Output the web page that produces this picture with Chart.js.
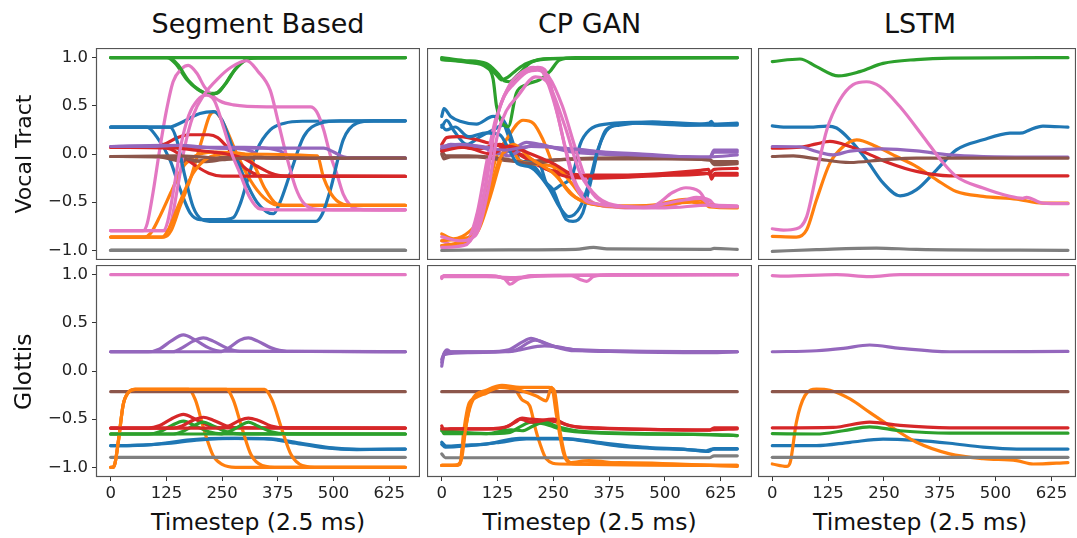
<!DOCTYPE html>
<html>
<head>
<meta charset="utf-8">
<script src="https://cdn.jsdelivr.net/npm/chart.js@4/dist/chart.umd.min.js"></script>
<style>
  body { margin: 0; width: 1077px; height: 538px; overflow: hidden; background: #fff; position: relative; font-family: "DejaVu Sans", sans-serif; }
  canvas { position: absolute; }
  .lbl { position: absolute; color: #111; white-space: nowrap; line-height: 1; }
</style>
</head>
<body>
<canvas id="c00"></canvas><canvas id="c01"></canvas><canvas id="c02"></canvas>
<canvas id="c10"></canvas><canvas id="c11"></canvas><canvas id="c12"></canvas>
<script>
// tick labels
const xTicks = [0, 125, 250, 375, 500, 625];
const yTicks = [-1, -0.5, 0, 0.5, 1];
const yTickLabels = ['\u22121.0', '\u22120.5', '0.0', '0.5', '1.0'];
const titles = ['Segment Based', 'CP GAN', 'LSTM'];
const rowLabels = ['Vocal Tract', 'Glottis'];
const xLabel = 'Timestep (2.5 ms)';

// ---- Segment Based, vocal tract ----
const segVtBlue = [
  [[0,0.278],[81,0.278],[103,0.18],[133,-0.06],[156,-0.37],[178,-0.61],[201,-0.68],[250,-0.68],[275,-0.66],[292,-0.5],[305,-0.3],[328,0.04],[358,0.25],[390,0.32],[430,0.34],[661,0.344]],
  [[0,0.278],[130,0.278],[160,0.33],[200,0.42],[231,0.44],[250,0.35],[275,0.04],[300,-0.25],[328,-0.5],[350,-0.6],[365,-0.62],[380,-0.5],[403,-0.2],[433,0.18],[470,0.32],[515,0.344],[661,0.344]],
  [[0,0.278],[133,0.278],[148,0.15],[165,-0.2],[185,-0.55],[205,-0.68],[230,-0.7],[460,-0.7],[475,-0.62],[493,-0.37],[522,0.15],[552,0.32],[590,0.344],[661,0.344]]
];
const segVtOrange = [
  [[0,-0.862],[120,-0.862],[135,-0.8],[155,-0.55],[178,-0.27],[208,0.2],[222,0.4],[233,0.44],[253,0.32],[283,0.0],[313,-0.27],[343,-0.45],[373,-0.53],[400,-0.534],[661,-0.534]],
  [[0,-0.862],[75,-0.862],[90,-0.82],[110,-0.65],[135,-0.4],[160,-0.15],[190,-0.02],[230,0.02],[300,0.0],[320,-0.1],[345,-0.35],[373,-0.52],[400,-0.534],[661,-0.534]],
  [[0,-0.862],[115,-0.862],[130,-0.78],[155,-0.5],[185,-0.2],[215,-0.05],[260,0.0],[463,-0.02],[478,-0.25],[500,-0.45],[530,-0.53],[560,-0.534],[661,-0.534]]
];
const segVtGreen = [
  [[0,1],[126,1],[145,0.94],[171,0.77],[195,0.67],[215,0.63],[238,0.63],[253,0.7],[270,0.82],[283,0.9],[300,0.97],[320,0.995],[661,1]],
  [[0,1],[130,1],[150,0.93],[175,0.76],[200,0.66],[222,0.62],[240,0.64],[258,0.73],[280,0.88],[305,0.98],[330,1],[661,1]],
  [[0,1],[661,1]]
];
const segVtRed = [
  [[0,0.07],[90,0.07],[120,0.1],[150,0.17],[175,0.2],[220,0.2],[240,0.17],[265,0.05],[290,-0.1],[320,-0.2],[350,-0.23],[661,-0.233]],
  [[0,0.07],[110,0.07],[135,0.05],[160,-0.02],[190,-0.12],[220,-0.2],[250,-0.23],[661,-0.233]],
  [[0,0.07],[150,0.06],[190,0.04],[230,0.02],[260,0.0],[300,-0.05],[330,-0.13],[360,-0.2],[390,-0.23],[661,-0.233]]
];
const segVtPurple = [
  [[0,0.078],[150,0.08],[250,0.06],[300,0.05],[320,0.02],[340,-0.03],[360,-0.043],[661,-0.043]],
  [[0,0.078],[120,0.09],[200,0.07],[300,0.07],[350,0.06],[380,0.03],[400,-0.02],[420,-0.043],[661,-0.043]],
  [[0,0.078],[100,0.08],[150,0.09],[250,0.06],[350,0.06],[478,0.06],[500,0.02],[522,-0.03],[545,-0.043],[661,-0.043]]
];
const segVtBrown = [
  [[0,-0.026],[110,-0.03],[140,-0.06],[170,-0.08],[200,-0.07],[240,-0.04],[300,-0.03],[400,-0.04],[661,-0.043]],
  [[0,-0.026],[130,-0.03],[170,-0.05],[210,-0.08],[250,-0.06],[300,-0.04],[661,-0.043]],
  [[0,-0.026],[150,-0.02],[200,-0.03],[260,-0.05],[320,-0.04],[661,-0.043]]
];
const segVtPink = [
  [[0,-0.796],[73,-0.796],[82,-0.72],[95,-0.4],[110,0.05],[125,0.45],[140,0.75],[158,0.88],[174,0.92],[193,0.84],[210,0.7],[223,0.63],[245,0.55],[275,0.51],[350,0.49],[448,0.49],[462,0.44],[478,0.25],[492,0.0],[507,-0.2],[522,-0.42],[537,-0.53],[560,-0.575],[600,-0.579],[661,-0.579]],
  [[0,-0.796],[126,-0.796],[135,-0.72],[150,-0.35],[165,0.05],[185,0.4],[210,0.62],[240,0.78],[270,0.9],[305,0.97],[330,0.86],[358,0.66],[375,0.35],[395,-0.03],[415,-0.35],[433,-0.51],[463,-0.575],[500,-0.579],[661,-0.579]],
  [[0,-0.796],[118,-0.796],[128,-0.7],[142,-0.35],[158,0.1],[175,0.4],[195,0.56],[215,0.61],[233,0.55],[253,0.28],[272,0.0],[290,-0.2],[312,-0.45],[335,-0.57],[380,-0.579],[661,-0.579]]
];
const segVtGray = [
  [[0,-1],[661,-1]], [[0,-1],[661,-1]], [[0,-1],[661,-1]]
];

// ---- Segment Based, glottis ----
const segGlBlue = [
  [[0,-0.775],[50,-0.772],[103,-0.758],[178,-0.715],[253,-0.7],[343,-0.702],[403,-0.74],[478,-0.795],[552,-0.815],[661,-0.81]],
  [[0,-0.775],[60,-0.772],[120,-0.755],[200,-0.715],[280,-0.7],[360,-0.705],[420,-0.745],[490,-0.795],[560,-0.812],[661,-0.81]]
];
const segGlOrange = [
  [[0,-1],[5,-1],[10,-0.95],[18,-0.7],[28,-0.35],[40,-0.22],[55,-0.19],[175,-0.19],[190,-0.3],[210,-0.62],[230,-0.88],[250,-0.97],[280,-1],[661,-1]],
  [[0,-1],[5,-1],[10,-0.95],[18,-0.7],[28,-0.35],[40,-0.22],[55,-0.19],[260,-0.19],[275,-0.3],[295,-0.6],[315,-0.87],[340,-0.98],[380,-1],[661,-1]],
  [[0,-1],[5,-1],[10,-0.95],[18,-0.7],[28,-0.35],[40,-0.22],[55,-0.19],[345,-0.19],[362,-0.3],[385,-0.62],[405,-0.87],[430,-0.98],[470,-1],[661,-1]]
];
const segGlGreen = [
  [[0,-0.654],[85,-0.654],[110,-0.63],[135,-0.57],[163,-0.52],[190,-0.57],[220,-0.63],[250,-0.652],[661,-0.654]],
  [[0,-0.654],[140,-0.654],[160,-0.63],[185,-0.57],[208,-0.53],[230,-0.57],[260,-0.63],[290,-0.652],[661,-0.654]],
  [[0,-0.654],[245,-0.654],[265,-0.63],[290,-0.57],[309,-0.53],[330,-0.57],[360,-0.63],[395,-0.652],[661,-0.654]]
];
const segGlRed = [
  [[0,-0.592],[85,-0.592],[110,-0.565],[135,-0.5],[163,-0.45],[190,-0.5],[220,-0.565],[250,-0.59],[661,-0.592]],
  [[0,-0.592],[140,-0.592],[160,-0.57],[185,-0.51],[208,-0.48],[230,-0.51],[260,-0.57],[290,-0.59],[661,-0.592]],
  [[0,-0.592],[245,-0.592],[265,-0.57],[290,-0.51],[309,-0.488],[330,-0.51],[360,-0.57],[395,-0.59],[661,-0.592]]
];
const segGlPurple = [
  [[0,0.2],[85,0.2],[110,0.23],[135,0.31],[163,0.374],[190,0.32],[220,0.24],[250,0.205],[661,0.2]],
  [[0,0.2],[140,0.2],[160,0.24],[185,0.31],[208,0.343],[230,0.31],[260,0.24],[290,0.205],[661,0.2]],
  [[0,0.2],[245,0.2],[265,0.24],[290,0.32],[309,0.343],[330,0.31],[360,0.24],[395,0.205],[661,0.2]]
];
const segGlBrown = [[[0,-0.215],[661,-0.215]]];
const segGlPink = [[[0,1],[661,1]]];
const segGlGray = [[[0,-0.896],[661,-0.896]]];

// ---- CP GAN, vocal tract ----
const ganVtBlue = [
  [[0,0.278],[11,0.35],[26,0.25],[56,0.1],[86,0.18],[115,0.25],[138,0.3],[153,0.14],[175,-0.07],[205,-0.12],[234,-0.3],[249,-0.37],[264,-0.54],[279,-0.68],[294,-0.7],[316,-0.61],[331,-0.34],[353,0.08],[368,0.25],[398,0.3],[472,0.33],[547,0.3],[599,0.32],[604,0.34],[610,0.3],[662,0.31]],
  [[0,0.39],[5,0.47],[20,0.39],[41,0.34],[78,0.31],[115,0.39],[138,0.35],[153,0.21],[175,-0.07],[219,-0.11],[234,-0.3],[249,-0.37],[264,-0.33],[294,-0.2],[310,0.1],[331,0.25],[368,0.31],[472,0.33],[600,0.31],[662,0.32]],
  [[0,0.3],[10,0.25],[30,0.28],[60,0.18],[100,0.22],[130,0.2],[150,0.05],[170,-0.1],[200,-0.14],[240,-0.35],[264,-0.55],[285,-0.65],[310,-0.55],[330,-0.3],[350,0.05],[375,0.27],[420,0.32],[560,0.3],[600,0.3],[662,0.3]]
];
const ganVtOrange = [
  [[0,-0.83],[26,-0.88],[63,-0.8],[86,-0.66],[100,-0.43],[123,-0.02],[145,0.15],[182,0.35],[205,0.32],[227,0.147],[257,-0.2],[286,-0.4],[316,-0.49],[353,-0.53],[398,-0.54],[472,-0.53],[547,-0.47],[590,-0.47],[600,-0.53],[662,-0.55]],
  [[0,-0.9],[40,-0.88],[78,-0.82],[108,-0.45],[138,0.0],[153,0.05],[175,-0.07],[205,-0.1],[260,-0.15],[290,-0.3],[320,-0.47],[360,-0.53],[420,-0.54],[500,-0.53],[580,-0.48],[600,-0.55],[662,-0.56]],
  [[0,-0.95],[30,-0.93],[70,-0.85],[100,-0.5],[130,-0.05],[160,0.1],[200,-0.05],[250,-0.2],[300,-0.45],[350,-0.53],[450,-0.55],[560,-0.5],[600,-0.53],[662,-0.55]]
];
const ganVtGreen = [
  [[0,0.99],[50,0.96],[100,0.92],[123,0.82],[134,0.77],[149,0.8],[167,0.87],[190,0.94],[249,0.99],[662,1]],
  [[0,0.98],[60,0.95],[100,0.9],[115,0.78],[123,0.49],[149,0.285],[167,0.63],[190,0.72],[219,0.77],[242,0.855],[264,0.976],[300,1],[662,1]],
  [[0,1],[50,0.97],[100,0.94],[125,0.84],[140,0.76],[152,0.75],[170,0.82],[200,0.95],[240,0.99],[662,1]]
];
const ganVtRed = [
  [[0,0.1],[11,0.17],[40,0.18],[100,0.12],[150,0.05],[190,-0.05],[230,-0.15],[280,-0.2],[330,-0.22],[400,-0.22],[500,-0.2],[580,-0.17],[598,-0.16],[604,-0.26],[612,-0.2],[662,-0.2]],
  [[0,0.05],[30,0.08],[80,0.05],[130,0.1],[160,0.03],[200,-0.05],[240,-0.17],[290,-0.24],[340,-0.25],[420,-0.24],[520,-0.22],[600,-0.2],[610,-0.16],[662,-0.15]],
  [[0,0.03],[50,0.07],[110,0.0],[150,0.08],[200,0.0],[250,-0.1],[300,-0.22],[360,-0.23],[460,-0.22],[590,-0.2],[610,-0.22],[662,-0.22]]
];
const ganVtPurple = [
  [[0,0.06],[20,0.1],[60,0.08],[100,0.06],[130,0.0],[160,0.05],[190,0.12],[220,0.1],[280,0.03],[350,0.0],[450,-0.02],[550,-0.03],[600,-0.04],[610,0.02],[662,0.02]],
  [[0,0.05],[30,0.09],[80,0.08],[120,0.02],[150,-0.02],[180,0.05],[210,0.1],[260,0.06],[330,0.03],[450,0.0],[600,-0.04],[610,0.04],[662,0.04]],
  [[0,0.08],[40,0.1],[100,0.07],[140,0.04],[200,0.08],[300,0.05],[400,0.0],[600,-0.03],[662,-0.01]]
];
const ganVtBrown = [
  [[0,0.0],[5,-0.05],[20,-0.03],[80,-0.03],[130,-0.06],[180,-0.08],[250,-0.06],[350,-0.05],[500,-0.05],[600,-0.06],[610,-0.08],[662,-0.08]],
  [[0,0.03],[10,-0.02],[60,-0.02],[140,-0.05],[200,-0.1],[260,-0.06],[400,-0.04],[600,-0.06],[610,-0.11],[662,-0.1]]
];
const ganVtPink = [
  [[0,-0.9],[30,-0.95],[60,-0.88],[80,-0.6],[100,-0.1],[120,0.35],[140,0.6],[160,0.72],[190,0.85],[215,0.9],[235,0.85],[255,0.5],[275,0.1],[300,-0.3],[325,-0.46],[380,-0.55],[472,-0.54],[517,-0.4],[547,-0.35],[577,-0.39],[599,-0.52],[662,-0.545]],
  [[0,-0.95],[40,-0.93],[70,-0.82],[95,-0.4],[115,0.2],[135,0.55],[160,0.75],[190,0.85],[215,0.87],[240,0.8],[270,0.5],[300,0.05],[330,-0.35],[360,-0.5],[420,-0.56],[520,-0.53],[570,-0.45],[600,-0.48],[615,-0.54],[662,-0.54]],
  [[0,-0.97],[50,-0.95],[75,-0.8],[100,-0.3],[120,0.3],[150,0.7],[180,0.85],[205,0.9],[230,0.82],[260,0.4],[290,-0.2],[315,-0.45],[350,-0.52],[450,-0.55],[540,-0.48],[580,-0.46],[605,-0.54],[662,-0.55]],
  [[0,-0.86],[40,-0.9],[75,-0.85],[105,-0.35],[125,0.2],[145,0.45],[170,0.6],[210,0.8],[240,0.72],[275,0.3],[310,-0.2],[350,-0.45],[400,-0.54],[500,-0.56],[600,-0.53],[662,-0.54]]
];
const ganVtGray = [
  [[0,-1],[150,-0.995],[300,-0.99],[340,-0.97],[370,-0.985],[600,-0.99],[610,-0.98],[662,-0.99]]
];

// ---- CP GAN, glottis ----
const ganGlBlue = [
  [[0,-0.74],[10,-0.78],[50,-0.77],[100,-0.758],[175,-0.7],[264,-0.7],[324,-0.73],[398,-0.78],[472,-0.803],[550,-0.815],[592,-0.83],[606,-0.81],[662,-0.81]],
  [[0,-0.76],[8,-0.79],[60,-0.775],[130,-0.74],[190,-0.705],[280,-0.705],[350,-0.74],[450,-0.79],[550,-0.815],[598,-0.835],[610,-0.805],[662,-0.805]]
];
const ganGlOrange = [
  [[0,-0.98],[30,-0.98],[41,-0.95],[50,-0.6],[60,-0.35],[75,-0.28],[100,-0.23],[130,-0.17],[165,-0.2],[180,-0.3],[197,-0.36],[210,-0.6],[219,-0.74],[234,-0.91],[264,-0.965],[662,-0.98]],
  [[0,-0.98],[35,-0.98],[45,-0.9],[55,-0.55],[70,-0.3],[100,-0.22],[140,-0.16],[175,-0.2],[212,-0.26],[234,-0.31],[246,-0.17],[257,-0.46],[272,-0.84],[286,-0.95],[330,-0.93],[400,-0.96],[662,-0.98]],
  [[0,-0.98],[40,-0.97],[50,-0.7],[65,-0.33],[100,-0.2],[135,-0.15],[175,-0.17],[240,-0.17],[252,-0.2],[264,-0.6],[279,-0.91],[301,-0.965],[398,-0.95],[662,-0.99]]
];
const ganGlGreen = [
  [[0,-0.6],[5,-0.65],[100,-0.65],[150,-0.64],[175,-0.58],[200,-0.53],[230,-0.55],[280,-0.62],[400,-0.65],[600,-0.66],[662,-0.67]],
  [[0,-0.62],[100,-0.65],[155,-0.61],[180,-0.62],[205,-0.57],[230,-0.53],[260,-0.58],[320,-0.63],[600,-0.66],[662,-0.67]]
];
const ganGlRed = [
  [[0,-0.57],[5,-0.62],[20,-0.6],[130,-0.6],[165,-0.53],[180,-0.49],[200,-0.5],[230,-0.51],[260,-0.53],[300,-0.58],[400,-0.6],[600,-0.615],[610,-0.59],[662,-0.59]],
  [[0,-0.6],[100,-0.6],[150,-0.57],[175,-0.5],[200,-0.53],[250,-0.5],[280,-0.56],[350,-0.59],[600,-0.61],[662,-0.6]]
];
const ganGlPurple = [
  [[0,0.09],[5,0.18],[12,0.22],[20,0.2],[100,0.2],[150,0.22],[180,0.3],[200,0.34],[220,0.31],[250,0.26],[300,0.22],[400,0.2],[600,0.19],[662,0.2]],
  [[0,0.12],[8,0.2],[50,0.2],[150,0.2],[175,0.22],[230,0.26],[260,0.25],[300,0.22],[662,0.2]],
  [[0,0.05],[5,0.17],[60,0.19],[160,0.21],[210,0.32],[240,0.27],[300,0.21],[662,0.2]]
];
const ganGlBrown = [[[0,-0.215],[662,-0.215]]];
const ganGlPink = [
  [[0,0.97],[5,0.99],[100,0.99],[140,0.96],[153,0.9],[170,0.95],[200,0.99],[662,1]],
  [[0,0.96],[5,0.99],[120,0.985],[150,0.95],[200,0.98],[290,0.99],[310,0.95],[325,0.93],[340,0.98],[380,1],[662,1]],
  [[0,0.98],[100,0.98],[160,0.97],[220,0.99],[662,1]]
];
const ganGlGray = [
  [[0,-0.86],[8,-0.9],[100,-0.9],[300,-0.9],[600,-0.9],[610,-0.88],[662,-0.88]]
];

// ---- LSTM, vocal tract ----
const lstmVtBlue = [[[0,0.292],[25,0.278],[84,0.278],[122,0.29],[144,0.27],[174,0.147],[211,-0.06],[248,-0.3],[286,-0.434],[323,-0.37],[368,-0.164],[412,0.043],[472,0.147],[532,0.216],[561,0.22],[576,0.25],[606,0.29],[662,0.278]]];
const lstmVtOrange = [[[0,-0.855],[54,-0.862],[77,-0.786],[99,-0.475],[129,-0.095],[159,0.078],[189,0.147],[233,0.078],[278,-0.026],[323,-0.13],[368,-0.268],[412,-0.389],[472,-0.44],[547,-0.468],[606,-0.51],[662,-0.51]]];
const lstmVtGreen = [[[0,0.959],[62,0.986],[99,0.907],[148,0.81],[196,0.855],[248,0.94],[323,0.98],[400,0.995],[662,1]]];
const lstmVtRed = [[[0,0.06],[62,0.07],[99,0.105],[129,0.13],[174,0.078],[211,0.009],[263,-0.095],[323,-0.18],[397,-0.226],[662,-0.226]]];
const lstmVtPurple = [[[0,0.078],[62,0.075],[99,0.026],[136,-0.009],[174,0.03],[248,0.054],[323,0.033],[397,-0.01],[472,-0.026],[662,-0.033]]];
const lstmVtBrown = [[[0,-0.026],[47,-0.02],[99,-0.05],[174,-0.088],[248,-0.06],[323,-0.043],[662,-0.043]]];
const lstmVtPink = [[[0,-0.776],[25,-0.79],[54,-0.776],[77,-0.65],[99,-0.2],[122,0.25],[151,0.56],[181,0.72],[211,0.75],[241,0.7],[286,0.49],[338,0.18],[383,-0.095],[412,-0.233],[472,-0.354],[532,-0.44],[561,-0.46],[569,-0.45],[606,-0.51],[662,-0.516]]];
const lstmVtGray = [[[0,-1.01],[99,-0.993],[233,-0.976],[323,-0.99],[662,-1]]];

// ---- LSTM, glottis ----
const lstmGlBlue = [[[0,-0.775],[99,-0.775],[174,-0.74],[248,-0.706],[323,-0.72],[397,-0.75],[472,-0.79],[547,-0.81],[662,-0.81]]];
const lstmGlOrange = [[[0,-0.965],[32,-0.99],[40,-0.95],[54,-0.53],[73,-0.256],[99,-0.187],[129,-0.2],[174,-0.29],[218,-0.43],[263,-0.57],[323,-0.74],[397,-0.86],[472,-0.91],[547,-0.93],[584,-0.965],[662,-0.95]]];
const lstmGlGreen = [[[0,-0.65],[99,-0.654],[159,-0.62],[218,-0.58],[286,-0.62],[397,-0.645],[662,-0.645]]];
const lstmGlRed = [[[0,-0.59],[136,-0.585],[218,-0.53],[286,-0.565],[397,-0.59],[662,-0.59]]];
const lstmGlPurple = [[[0,0.2],[99,0.21],[159,0.235],[218,0.27],[286,0.235],[397,0.2],[662,0.203]]];
const lstmGlBrown = [[[0,-0.215],[662,-0.215]]];
const lstmGlPink = [[[0,0.99],[25,0.985],[144,1],[218,0.98],[286,1],[662,1]]];
const lstmGlGray = [[[0,-0.896],[662,-0.896]]];

// matplotlib tab10
const tab = { blue: '#1f77b4', orange: '#ff7f0e', green: '#2ca02c', red: '#d62728',
  purple: '#9467bd', brown: '#8c564b', pink: '#e377c2', gray: '#7f7f7f' };
const order = ['blue', 'orange', 'green', 'red', 'purple', 'brown', 'pink', 'gray'];

const panels = [
  [
    { blue: segVtBlue, orange: segVtOrange, green: segVtGreen, red: segVtRed, purple: segVtPurple, brown: segVtBrown, pink: segVtPink, gray: segVtGray },
    { blue: ganVtBlue, orange: ganVtOrange, green: ganVtGreen, red: ganVtRed, purple: ganVtPurple, brown: ganVtBrown, pink: ganVtPink, gray: ganVtGray },
    { blue: lstmVtBlue, orange: lstmVtOrange, green: lstmVtGreen, red: lstmVtRed, purple: lstmVtPurple, brown: lstmVtBrown, pink: lstmVtPink, gray: lstmVtGray }
  ],
  [
    { blue: segGlBlue, orange: segGlOrange, green: segGlGreen, red: segGlRed, purple: segGlPurple, brown: segGlBrown, pink: segGlPink, gray: segGlGray },
    { blue: ganGlBlue, orange: ganGlOrange, green: ganGlGreen, red: ganGlRed, purple: ganGlPurple, brown: ganGlBrown, pink: ganGlPink, gray: ganGlGray },
    { blue: lstmGlBlue, orange: lstmGlOrange, green: lstmGlGreen, red: lstmGlRed, purple: lstmGlPurple, brown: lstmGlBrown, pink: lstmGlPink, gray: lstmGlGray }
  ]
];

// layout (px)
const colLeft = [96, 427, 758];
const colWidth = [324, 325, 318];
const colRange = [[-33, 694], [-33, 695], [-32, 680]];
const rowTop = [48, 265];
const plotH = 212;
const YW = 60, XH = 30;

function buildDatasets(p) {
  const out = [];
  const n = Math.max(...order.map(c => p[c].length));
  for (let i = 0; i < n; i++) {
    order.forEach(c => {
      if (p[c][i]) out.push({ data: p[c][i], borderColor: tab[c], borderWidth: 3.2,
        pointRadius: 0, fill: false, cubicInterpolationMode: 'monotone', borderCapStyle: 'round' });
    });
  }
  return out.reverse(); // first dataset is painted last
}

const frame = {
  id: 'frame',
  afterDraw(chart) {
    const a = chart.chartArea, ctx = chart.ctx;
    ctx.save();
    ctx.strokeStyle = '#555';
    ctx.lineWidth = 1.2;
    ctx.strokeRect(a.left + 0.5, a.top + 0.5, a.right - a.left - 1, a.bottom - a.top - 1);
    ctx.restore();
  }
};

const tickFont = { family: 'DejaVu Sans', size: 16.5 };

// fixed axis sizes, no extra room for overhanging tick labels
function fixBox(s, size) {
  if (s.isHorizontal()) s.height = size; else s.width = size;
  s.paddingTop = 0; s.paddingBottom = 0; s.paddingLeft = 0; s.paddingRight = 0;
}

for (let r = 0; r < 2; r++) {
  for (let c = 0; c < 3; c++) {
    const cv = document.getElementById('c' + r + c);
    const showX = r === 1, showY = c === 0;
    const w = colWidth[c] + (showY ? YW : 0);
    const h = plotH + (showX ? XH : 0);
    cv.style.left = (colLeft[c] - (showY ? YW : 0)) + 'px';
    cv.style.top = rowTop[r] + 'px';
    cv.style.width = w + 'px';
    cv.style.height = h + 'px';
    cv.width = w; cv.height = h;
    new Chart(cv, {
      type: 'line',
      data: { datasets: buildDatasets(panels[r][c]) },
      plugins: [frame],
      options: {
        responsive: false, animation: false, events: [],
        layout: { padding: 0, autoPadding: false },
        plugins: { legend: { display: false }, tooltip: { enabled: false } },
        scales: {
          x: {
            type: 'linear', min: colRange[c][0], max: colRange[c][1], display: showX,
            afterBuildTicks: s => { s.ticks = xTicks.map(v => ({ value: v })); },
            afterFit: s => fixBox(s, showX ? XH : 0),
            grid: { drawOnChartArea: false, color: '#333', tickLength: 4 },
            border: { display: false },
            ticks: { color: '#222', font: tickFont, padding: 3, maxRotation: 0, autoSkip: false, callback: v => String(v) }
          },
          y: {
            type: 'linear', min: -1.1, max: 1.1, display: showY,
            afterBuildTicks: s => { s.ticks = yTicks.map(v => ({ value: v })); },
            afterFit: s => fixBox(s, showY ? YW : 0),
            grid: { drawOnChartArea: false, color: '#333', tickLength: 4 },
            border: { display: false },
            ticks: { color: '#222', font: tickFont, padding: 4, callback: (v, i) => yTickLabels[i] }
          }
        }
      }
    });
  }
}

// titles and axis labels
function addLabel(text, size, cx, baseline, rotate) {
  const d = document.createElement('div');
  d.className = 'lbl';
  d.textContent = text;
  d.style.fontSize = size + 'px';
  document.body.appendChild(d);
  const w = d.offsetWidth;
  if (!rotate) {
    d.style.left = (cx - w / 2) + 'px';
    d.style.top = (baseline - 0.846 * size) + 'px';
  } else {
    // baseline given as x, cx as vertical centre
    const midX = baseline - 0.346 * size;
    d.style.left = (midX - w / 2) + 'px';
    d.style.top = (cx - size / 2) + 'px';
    d.style.transform = 'rotate(-90deg)';
  }
}
const titleCenters = [258, 589.5, 920];
titles.forEach((t, i) => addLabel(t, 27, titleCenters[i], 33.3));
titles.forEach((t, i) => addLabel(xLabel, 23.5, titleCenters[i], 530.7));
addLabel(rowLabels[0], 22, 154, 32.5, true);
addLabel(rowLabels[1], 23.5, 372, 32.5, true);
</script>
</body>
</html>
